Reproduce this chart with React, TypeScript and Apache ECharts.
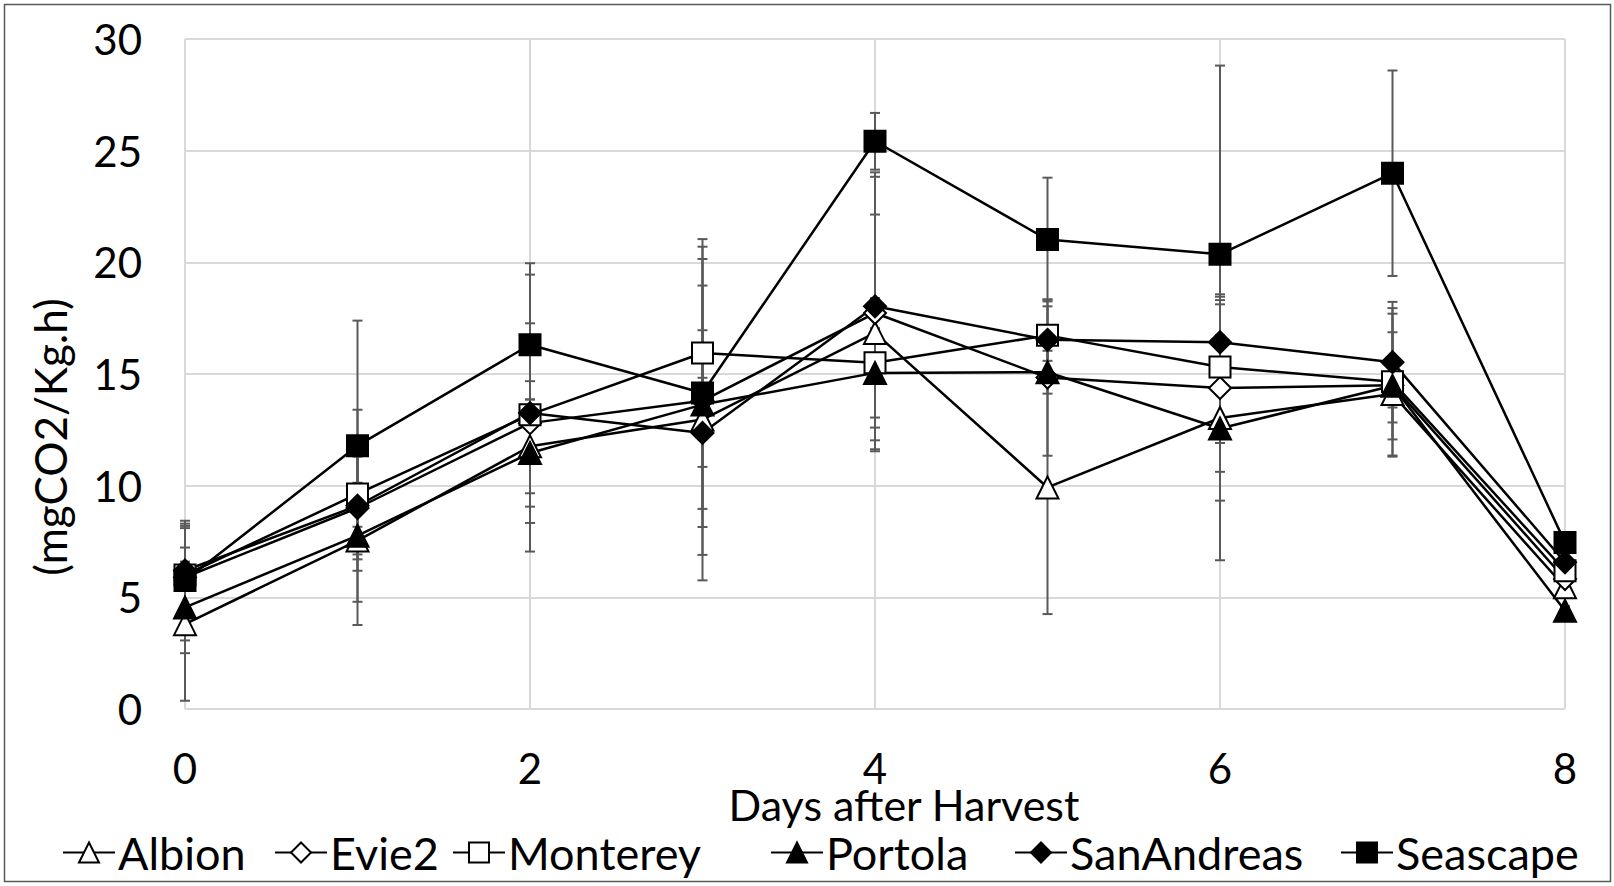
import React, { useEffect, useRef } from "react";
import * as echarts from "echarts";

const days = [0, 1, 2, 3, 4, 5, 6, 7, 8];
const seriesNames = ["Albion", "Evie2", "Monterey", "Portola", "SanAndreas", "Seascape"];

const albion = [3.8, 7.54, 11.76, 12.96, 16.84, 9.92, 13.03, 14.1, 5.45];
const evie2 = [5.9, 9.0, 12.8, 13.8, 17.73, 14.84, 14.37, 14.5, 5.82];
const monterey = [6.0, 9.63, 13.18, 15.94, 15.5, 16.73, 15.31, 14.65, 6.19];
const portola = [4.55, 7.76, 11.46, 13.63, 15.05, 15.08, 12.56, 14.47, 4.4];
const sanAndreas = [6.2, 9.1, 13.25, 12.36, 18.03, 16.53, 16.42, 15.53, 6.57];
const seascape = [5.75, 11.79, 16.31, 14.15, 25.42, 21.02, 20.36, 23.99, 7.46];

const albionErr = [3.43, 0.62, 2.1, 4.0, 5.3, 5.67, 3.7, 0.6, 0.2];
const evie2Err = [2.2, 2.3, 4.47, 6.9, 6.1, 3.5, 3.75, 3.2, 0.2];
const montereyErr = [2.2, 0.5, 1.5, 5.1, 2.9, 1.6, 3.0, 3.3, 0.2];
const portolaErr = [2.05, 4.0, 2.4, 1.2, 2.0, 0.96, 5.9, 2.4, 0.2];
const sanAndreasErr = [2.1, 4.3, 6.2, 6.6, 6.0, 1.5, 2.15, 2.7, 0.2];
const seascapeErr = [2.68, 5.6, 3.65, 6.0, 1.27, 2.77, 8.45, 4.6, 0.2];

const values = [albion, evie2, monterey, portola, sanAndreas, seascape];
const errors = [albionErr, evie2Err, montereyErr, portolaErr, sanAndreasErr, seascapeErr];
const symbols = ["triangle", "diamond", "rect", "triangle", "diamond", "rect"];
const filled = [false, false, false, true, true, true];
const legendLefts = [62, 274, 452, 770, 1014, 1340];

const xTitle = "Days after Harvest";
const yTitle = "(mgCO2/Kg.h)";

const FONT = "Lato";
const FS = 42;

export default function App() {
  const ref = useRef<HTMLDivElement>(null);
  useEffect(() => {
    document.body.style.margin = "0";
    const chart = echarts.init(ref.current!, null, { renderer: "svg" });

    const errData: number[][] = [];
    values.forEach((vals, si) => {
      vals.forEach((v, di) => {
        errData.push([days[di], v - errors[si][di], v + errors[si][di]]);
      });
    });

    const lineSeries = seriesNames.map((name, si) => ({
      name,
      type: "line",
      data: days.map((d, di) => [d, values[si][di]]),
      symbol: symbols[si],
      symbolSize: symbols[si] === "rect" ? 21 : 22,
      showAllSymbol: true,
      lineStyle: { color: "#000", width: 2.5 },
      itemStyle: {
        color: filled[si] ? "#000" : "#fff",
        borderColor: "#000",
        borderWidth: 2,
      },
      emphasis: { disabled: true },
      z: 3,
    }));

    const option: any = {
      animation: false,
      backgroundColor: "#fff",
      grid: { left: 185, right: 49, top: 39, bottom: 177, containLabel: false },
      xAxis: {
        type: "value",
        min: 0,
        max: 8,
        interval: 2,
        axisLine: { show: false },
        axisTick: { show: false },
        axisLabel: { fontFamily: FONT, fontSize: FS, color: "#000", margin: 38 },
        splitLine: { show: true, lineStyle: { color: "#d9d9d9", width: 2 } },
      },
      yAxis: {
        type: "value",
        min: 0,
        max: 30,
        interval: 5,
        axisLine: { show: false },
        axisTick: { show: false },
        axisLabel: { fontFamily: FONT, fontSize: FS, color: "#000", margin: 43 },
        splitLine: { show: true, lineStyle: { color: "#d9d9d9", width: 2 } },
      },
      legend: seriesNames.map((name, si) => ({
        data: [name],
        left: legendLefts[si],
        top: 830,
        padding: 0,
        itemWidth: 52,
        itemHeight: 25,
        itemGap: 0,
        selectedMode: false,
        textStyle: { fontFamily: FONT, fontSize: 45, color: "#000", padding: [0, 0, 0, -2] },
      })),
      graphic: [
        {
          type: "rect",
          shape: { x: 4.5, y: 4.5, width: 1606, height: 877 },
          style: { fill: "none", stroke: "#595959", lineWidth: 1.5 },
          silent: true,
        },
        {
          type: "text",
          x: 50,
          y: 437,
          rotation: Math.PI / 2,
          silent: true,
          style: {
            text: yTitle,
            fontFamily: FONT,
            fontSize: 44,
            fill: "#000",
            align: "center",
            verticalAlign: "middle",
          },
        },
        {
          type: "text",
          x: 904,
          y: 804,
          silent: true,
          style: {
            text: xTitle,
            fontFamily: FONT,
            fontSize: 43,
            fill: "#000",
            align: "center",
            verticalAlign: "middle",
          },
        },
      ],
      series: [
        {
          type: "custom",
          name: "errors",
          data: errData,
          encode: { x: 0, y: [1, 2] },
          z: 1,
          silent: true,
          renderItem: (params: any, api: any) => {
            const x = api.value(0);
            const lo = api.value(1);
            const hi = api.value(2);
            const top = api.coord([x, hi]);
            const bot = api.coord([x, lo]);
            const hw = 5;
            const style = { stroke: "#595959", lineWidth: 2 };
            return {
              type: "group",
              children: [
                { type: "line", shape: { x1: top[0], y1: top[1], x2: bot[0], y2: bot[1] }, style },
                { type: "line", shape: { x1: top[0] - hw, y1: top[1], x2: top[0] + hw, y2: top[1] }, style },
                { type: "line", shape: { x1: bot[0] - hw, y1: bot[1], x2: bot[0] + hw, y2: bot[1] }, style },
              ],
            };
          },
        },
        ...lineSeries,
      ],
    };
    chart.setOption(option);
    return () => chart.dispose();
  }, []);
  return <div ref={ref} style={{ width: 1614, height: 886 }} />;
}
